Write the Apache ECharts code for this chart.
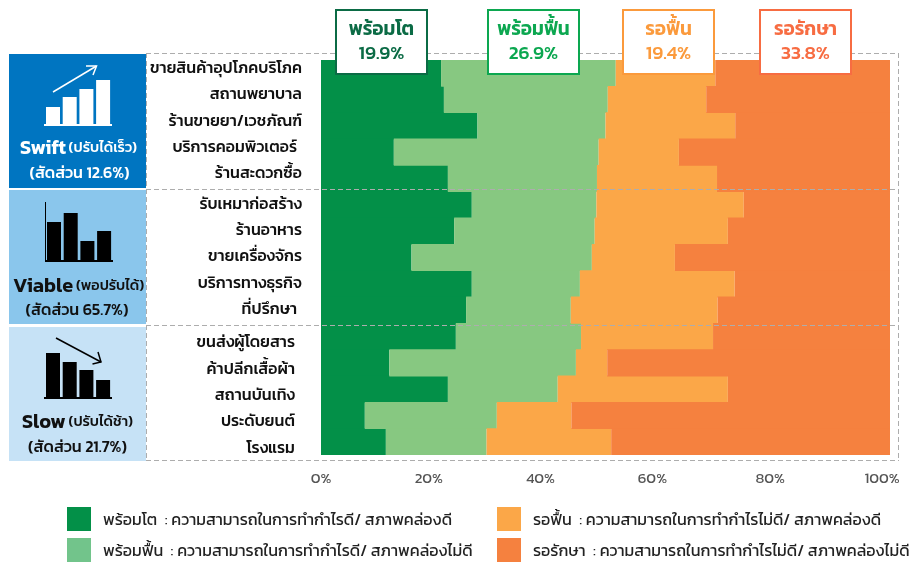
<!DOCTYPE html>
<html>
<head>
<meta charset="utf-8">
<script src="https://cdn.jsdelivr.net/npm/echarts@6/dist/echarts.min.js"></script>
<style>
  html, body { margin: 0; padding: 0; background: #fff; }
  #chart { width: 909px; height: 564px; }
</style>
</head>
<body>
<div id="chart"></div>
<script>
var categories = ['ขายสินค้าอุปโภคบริโภค', 'สถานพยาบาล', 'ร้านขายยา/เวชภัณฑ์', 'บริการคอมพิวเตอร์', 'ร้านสะดวกซื้อ',
  'รับเหมาก่อสร้าง', 'ร้านอาหาร', 'ขายเครื่องจักร', 'บริการทางธุรกิจ', 'ที่ปรึกษา',
  'ขนส่งผู้โดยสาร', 'ค้าปลีกเสื้อผ้า', 'สถานบันเทิง', 'ประดับยนต์', 'โรงแรม']
var seriesNames = ['พร้อมโต', 'พร้อมฟื้น', 'รอฟื้น', 'รอรักษา']
var readyGrow = [21.1, 21.6, 27.5, 12.8, 22.3, 26.5, 23.4, 15.9, 26.5, 25.5, 23.7, 12.0, 22.3, 7.7, 11.4]
var readyRecover = [30.7, 28.8, 22.5, 36.0, 26.2, 21.9, 24.7, 31.7, 19.0, 18.4, 22.0, 32.8, 19.3, 23.2, 17.7]
var waitRecover = [17.5, 17.3, 22.8, 14.1, 21.1, 25.9, 23.4, 14.6, 27.2, 25.8, 23.2, 5.5, 29.9, 13.1, 21.9]
var waitCare = [30.7, 32.3, 27.2, 37.1, 30.4, 25.7, 28.5, 37.8, 27.3, 30.3, 31.1, 49.7, 28.5, 56.0, 49.0]
var tickLabels = ['0%', '20%', '40%', '60%', '80%', '100%']
var boxValues = ['19.9%', '26.9%', '19.4%', '33.8%']
var legendNotes = ['ความสามารถในการทำกำไรดี/ สภาพคล่องดี', 'ความสามารถในการทำกำไรดี/ สภาพคล่องไม่ดี',
  'ความสามารถในการทำกำไรไม่ดี/ สภาพคล่องดี', 'ความสามารถในการทำกำไรไม่ดี/ สภาพคล่องไม่ดี']
var swiftBars = [17, 27, 35, 44]
var viableBars = [38, 47, 19, 29]
var slowBars = [44, 35, 27, 17]

var font = 'Kanit, Prompt, "Noto Sans Thai", "Noto Sans", sans-serif'
var barColors = ['#039048', '#87c881', '#fba748', '#f5813f']
var legendColors = ['#039048', '#72c48b', '#fba748', '#f5813f']
var boxColors = ['#0b6b45', '#0ca750', '#fb9a3c', '#f76c42']

var chart = echarts.init(document.getElementById('chart'))

function text(x, y, style) {
  return { type: 'text', x: x, y: y, z: 20, style: Object.assign({ fontFamily: font, verticalAlign: 'middle' }, style) }
}

// small bar icon, drawn on the coloured side panels
function icon(left, base, bars, color) {
  var els = bars.map(function(h, i) {
    return { type: 'rect', z: 12, shape: { x: left + i * 16.7, y: base - h, width: 14, height: h }, style: { fill: color } }
  })
  els.push({ type: 'rect', z: 12, shape: { x: left - 2, y: base, width: 68, height: 2 }, style: { fill: color } })
  return els
}

function arrow(from, tip, head1, head2, color) {
  return [
    { type: 'line', z: 12, shape: { x1: from[0], y1: from[1], x2: tip[0], y2: tip[1] }, style: { stroke: color, lineWidth: 1.5 } },
    { type: 'polyline', z: 12, shape: { points: [head1, tip, head2] }, style: { fill: 'none', stroke: color, lineWidth: 1.5 } }
  ]
}

var graphics = [
  { type: 'rect', shape: { x: 9, y: 54, width: 137, height: 134 }, style: { fill: '#0075c1' } },
  { type: 'rect', shape: { x: 9, y: 190, width: 137, height: 134 }, style: { fill: '#8ac6ec' } },
  { type: 'rect', shape: { x: 9, y: 327, width: 137, height: 134 }, style: { fill: '#c6e2f6' } }
]

// dashed frame and group separators sit over the bars
;[[146, 53.5, 899, 53.5], [146, 189.5, 899, 189.5], [146, 325.5, 899, 325.5], [146, 460.5, 899, 460.5], [146.5, 53, 146.5, 461], [898.5, 53, 898.5, 461]].forEach(function(l) {
  graphics.push({ type: 'line', z: 10, shape: { x1: l[0], y1: l[1], x2: l[2], y2: l[3] }, style: { stroke: '#adadad', lineWidth: 1, lineDash: [5, 3] } })
})

graphics = graphics.concat(icon(46, 124, swiftBars, '#fff'), icon(47, 260, viableBars, '#000'), icon(46, 397, slowBars, '#000'))
graphics = graphics.concat(arrow([53, 92], [96.5, 66], [86, 66], [93, 75], '#fff'))
graphics = graphics.concat(arrow([56, 338], [101, 362], [98, 352], [92.5, 364], '#000'))
graphics.push({ type: 'rect', z: 12, shape: { x: 45, y: 202, width: 1, height: 60 }, style: { fill: '#000' } })

var panels = [
  { name: 'Swift', note: '(ปรับได้เร็ว)', share: '(สัดส่วน 12.6%)', y: 149, shareX: 79.5, shareY: 174, color: '#fff', x: 20 },
  { name: 'Viable', note: '(พอปรับได้)', share: '(สัดส่วน 65.7%)', y: 287, shareX: 77, shareY: 311, color: '#111', x: 13 },
  { name: 'Slow', note: '(ปรับได้ช้า)', share: '(สัดส่วน 21.7%)', y: 423, shareX: 77.5, shareY: 448, color: '#111', x: 22 }
]
panels.forEach(function(p) {
  graphics.push(text(p.x, p.y, { text: '{a|' + p.name + '} {b|' + p.note + '}', fill: p.color,
    rich: { a: { fontFamily: font, fontSize: 20, fontWeight: 600, fill: p.color, color: p.color }, b: { fontFamily: font, fontSize: 14.5, fontWeight: 500, fill: p.color, color: p.color } } }))
  graphics.push(text(p.shareX, p.shareY, { text: p.share, fill: p.color, fontSize: 16, fontWeight: 500, align: 'center' }))
})

// value boxes over the top of the chart
var boxLefts = [336, 488, 623, 760]
seriesNames.forEach(function(name, i) {
  var left = boxLefts[i]
  graphics.push({ type: 'rect', z: 15, shape: { x: left, y: 10, width: 91, height: 64 }, style: { fill: '#fff', stroke: boxColors[i], lineWidth: 2 } })
  graphics.push(text(left + 45.5, 31, { text: name, fill: boxColors[i], fontSize: 19, fontWeight: 600, align: 'center' }))
  graphics.push(text(left + 45.5, 55, { text: boxValues[i], fill: boxColors[i], fontSize: 19, fontWeight: 500, align: 'center' }))
})

// legend
var legendPos = [[67, 507], [67, 538], [497, 507], [497, 538]]
seriesNames.forEach(function(name, i) {
  var p = legendPos[i]
  graphics.push({ type: 'rect', shape: { x: p[0], y: p[1], width: 24, height: 24 }, style: { fill: legendColors[i] } })
  graphics.push(text(p[0] + 36, p[1] + 14, { text: name + '  : ' + legendNotes[i], fill: '#222', fontSize: 16.1 }))
})

// per label nudges, the reference labels are not on a straight edge
var labelRich = {
  top: { color: '#111', fontSize: 16, fontWeight: 500, padding: [0, 0, 8, 0] },
  topIn: { color: '#111', fontSize: 16, fontWeight: 500, padding: [0, 5, 8, 0] },
  mid: { color: '#111', fontSize: 16, fontWeight: 500 },
  midIn: { color: '#111', fontSize: 16, fontWeight: 500, padding: [0, 5, 0, 0] },
  low: { color: '#111', fontSize: 16, fontWeight: 500, padding: [14, 7, 0, 0] }
}
// tick labels sit a little left of their ticks in the reference
var tickRich = {}
;[0, 12, 16, 20, 12, 16].forEach(function(pad, i) {
  tickRich['t' + i] = { color: '#555', fontSize: 15, padding: [0, pad, 0, 0] }
})

chart.setOption({
  animation: false,
  backgroundColor: '#fff',
  textStyle: { fontFamily: font },
  grid: { left: 321, right: 19, top: 60, bottom: 109 },
  xAxis: {
    type: 'value',
    min: 0,
    max: 100,
    interval: 20,
    splitLine: { show: false },
    axisLine: { show: false },
    axisTick: { show: false },
    axisLabel: {
      margin: 17,
      rich: tickRich,
      formatter: function(v) { return '{t' + (v / 20) + '|' + tickLabels[v / 20] + '}' }
    }
  },
  yAxis: {
    type: 'category',
    inverse: true,
    data: categories,
    axisLine: { show: false },
    axisTick: { show: false },
    axisLabel: {
      margin: 19,
      rich: labelRich,
      formatter: function(v, i) {
        var key = i < 5 ? 'top' : i < 10 ? 'mid' : 'low'
        if (i === 3 || i === 9) key += 'In'
        return '{' + key + '|' + v + '}'
      }
    }
  },
  series: [readyGrow, readyRecover, waitRecover, waitCare].map(function(d, i) {
    return {
      name: seriesNames[i],
      type: 'bar',
      stack: 'total',
      barWidth: '103%', // closes the hairline seams between rows
      itemStyle: { color: barColors[i] },
      data: d
    }
  }),
  graphic: { elements: graphics }
})
</script>
</body>
</html>
